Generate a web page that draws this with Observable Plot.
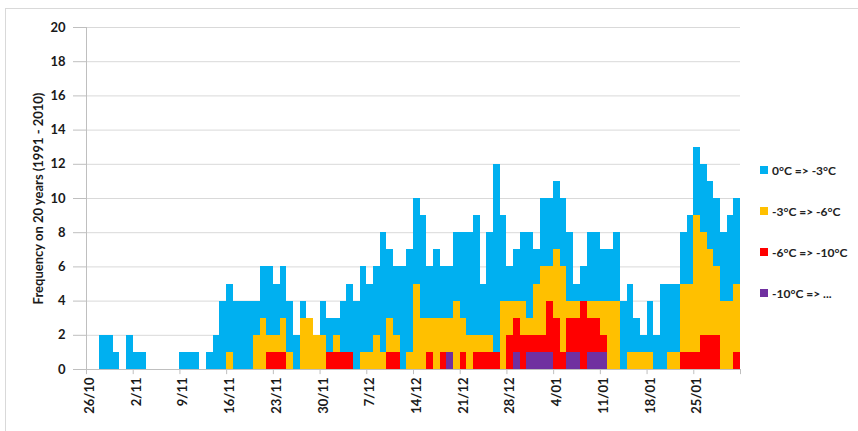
<!DOCTYPE html>
<html><head><meta charset="utf-8">
<script src="https://cdn.jsdelivr.net/npm/d3@7"></script>
<script src="https://cdn.jsdelivr.net/npm/@observablehq/plot@0.6"></script>
<style>
body{margin:0;background:#fff;}
#wrap{position:relative;width:858px;height:431px;overflow:hidden;font-family:Lato,"Open Sans",sans-serif;}
#frame{position:absolute;left:5px;top:8px;width:900px;height:600px;border:1px solid #d9d9d9;}
#chart{position:absolute;left:0;top:0;}
#legend{position:absolute;left:760px;top:160px;font-size:12px;font-weight:bold;color:#222;}
.item{display:flex;align-items:center;height:20px;margin-bottom:21px;white-space:nowrap;}
.sw{width:8px;height:8px;margin-right:4px;}
#chart [aria-label^="y-axis"] line, #chart [aria-label^="y-axis"] path{stroke:#bfbfbf;}
</style>
</head><body>
<div id="wrap"><div id="frame"></div><div id="chart"></div><div id="legend"></div></div>
<script>
// Series (stack order bottom -> top), legend labels and colours
const seriesNames = ["-10°C => ...", "-6°C => -10°C", "-3°C => -6°C", "0°C => -3°C"];
const seriesColors = ["#7030A0", "#FF0000", "#FFC000", "#00B0F0"];
const legendOrder = ["0°C => -3°C", "-3°C => -6°C", "-6°C => -10°C", "-10°C => ..."];

// Daily frequencies, 26/10 .. 31/01 (98 days)
const blue = [
  0,0,2,2,1,0,2,1,1,0,
  0,0,0,0,1,1,1,0,1,2,
  4,4,4,4,4,2,3,4,3,3,
  3,2,1,0,0,2,2,1,3,4,
  4,5,4,4,7,4,4,6,6,5,
  6,3,4,3,3,4,5,6,7,3,
  6,11,5,2,3,4,5,2,4,4,
  4,4,4,1,2,4,4,3,3,4,
  4,4,2,1,3,2,5,4,4,3,
  4,4,4,4,4,4,5,5
];
const orange = [
  0,0,0,0,0,0,0,0,0,0,
  0,0,0,0,0,0,0,0,0,0,
  0,1,0,0,0,2,3,1,1,2,
  1,0,3,3,2,2,0,1,0,0,
  0,1,1,2,1,2,1,0,1,5,
  3,2,3,2,2,4,2,2,1,1,
  1,0,4,2,1,2,1,3,4,2,
  4,5,1,1,0,1,1,2,4,4,
  0,1,1,1,1,0,0,1,1,4,
  4,8,6,5,4,4,4,4
];
const red = [
  0,0,0,0,0,0,0,0,0,0,
  0,0,0,0,0,0,0,0,0,0,
  0,0,0,0,0,0,0,1,1,1,
  0,0,0,0,0,0,1,1,1,1,
  0,0,0,0,0,1,1,0,0,0,
  0,1,0,1,0,0,1,0,1,1,
  1,1,0,2,2,2,1,1,1,3,
  3,1,2,2,4,2,2,1,0,0,
  0,0,0,0,0,0,0,0,0,1,
  1,1,2,2,2,0,0,1
];
const purple = [
  0,0,0,0,0,0,0,0,0,0,
  0,0,0,0,0,0,0,0,0,0,
  0,0,0,0,0,0,0,0,0,0,
  0,0,0,0,0,0,0,0,0,0,
  0,0,0,0,0,0,0,0,0,0,
  0,0,0,0,1,0,0,0,0,0,
  0,0,0,0,1,0,1,1,1,1,
  0,0,1,1,0,1,1,1,0,0,
  0,0,0,0,0,0,0,0,0,0,
  0,0,0,0,0,0,0,0
];
const tickLabels = ["26/10","2/11","9/11","16/11","23/11","30/11","7/12","14/12","21/12","28/12","4/01","11/01","18/01","25/01"];
const yTicks = [0,2,4,6,8,10,12,14,16,18,20];
const yTitle = "Frequency on 20 years (1991 - 2010)";

const nDays = blue.length;
const days = d3.range(nDays);
const weekIdx = tickLabels.map((_, k) => k * 7);
const labelOf = new Map(weekIdx.map((d, k) => [d, tickLabels[k]]));
const seriesValues = [purple, red, orange, blue];

const table = [];
seriesNames.forEach((s, k) => {
  seriesValues[k].forEach((v, i) => table.push({day: i, series: s, value: v}));
});

const W = 858, H = 431, mL = 86, mR = 118, mT = 27, mB = 62;
const bw = (W - mL - mR) / nDays;

const chart = Plot.plot({
  width: W, height: H,
  marginLeft: mL, marginRight: mR, marginTop: mT, marginBottom: mB,
  style: {fontFamily: "Lato, 'Open Sans', sans-serif", fontSize: "13px", fontWeight: "bold", color: "#1a1a1a", background: "transparent", overflow: "visible"},
  x: {type: "band", domain: days, padding: 0, tickSize: 0, tickPadding: 8, tickRotate: -90,
      tickFormat: d => labelOf.get(d) ?? "", label: null},
  y: {domain: [0, 20], ticks: yTicks, tickSize: 13, tickPadding: 8, label: null},
  color: {domain: seriesNames, range: seriesColors},
  marks: [
    Plot.ruleY(yTicks, {stroke: "#d9d9d9", strokeWidth: 1}),
    Plot.barY(table, {x: "day", y: "value", fill: "series", shapeRendering: "crispEdges"}),
    Plot.ruleY([0], {stroke: "#bfbfbf"}),
    Plot.ruleX([0], {x: d => d, y1: 0, y2: 20, dx: -bw / 2, stroke: "#bfbfbf"}),
    Plot.ruleX(weekIdx, {x: d => d, y1: 0, y2: -0.3, dx: -bw / 2, stroke: "#bfbfbf"}),
    Plot.ruleX([nDays - 1], {x: d => d, y1: 0, y2: -0.3, dx: bw / 2, stroke: "#bfbfbf"}),
    Plot.text([yTitle], {frameAnchor: "left", dx: -48, rotate: -90, textAnchor: "middle", fontSize: 13, fontWeight: "bold", fill: "#1a1a1a"})
  ]
});
document.getElementById("chart").appendChild(chart);

const legend = document.getElementById("legend");
legendOrder.forEach(name => {
  const k = seriesNames.indexOf(name);
  const item = document.createElement("div");
  item.className = "item";
  const sw = document.createElement("span");
  sw.className = "sw";
  sw.style.background = seriesColors[k];
  const t = document.createElement("span");
  t.textContent = name;
  item.appendChild(sw); item.appendChild(t);
  legend.appendChild(item);
});
</script>
</body></html>
